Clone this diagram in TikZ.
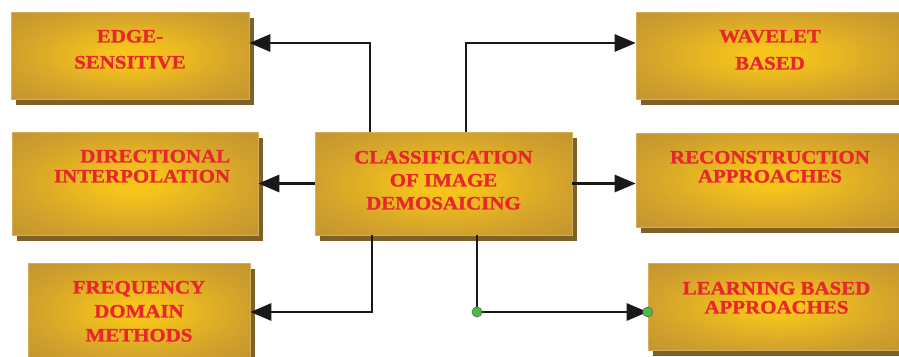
\documentclass[tikz,border=0pt]{standalone}
\usepackage{fontspec}
\setmainfont[FakeStretch=1.1, BoldFeatures={FakeBold=1.2}]{Liberation Serif}
\usepackage{xcolor}
\usepackage{tikz}
\usetikzlibrary{arrows.meta,positioning,shadows}

\definecolor{goldlight}{HTML}{F6C41B}
\definecolor{goldmid}{HTML}{D2A22C}
\definecolor{golddark}{HTML}{BA8D30}
\definecolor{goldedge}{HTML}{D4AE58}
\definecolor{boxshadow}{HTML}{7D6126}
\definecolor{labelred}{HTML}{E8262C}
\definecolor{dotgreen}{HTML}{46C040}

\pgfdeclareradialshading{goldglow}{\pgfpoint{0bp}{0bp}}{%
  color(0bp)=(goldlight); color(5bp)=(goldlight); color(24bp)=(goldmid); color(42bp)=(golddark); color(70bp)=(golddark)}

\newcommand{\boxfont}[1]{\fontsize{19}{#1}\selectfont\bfseries}

\tikzset{
  catbox/.style={rectangle, draw=goldedge, line width=0.6pt, shade, shading=goldglow,
    general shadow={shadow xshift=5pt, shadow yshift=-6pt, fill=boxshadow}, inner sep=0pt},
  cattext/.style={text=labelred, align=center, inner sep=0pt, font=\boxfont{#1}},
  cattext/.default=24,
  link/.style={draw=black!90, line width=2.8pt},
  arrowlink/.style={link, -{Triangle[length=21pt,width=17pt]}},
  junction/.style={circle, fill=dotgreen, draw=black!60, line width=0.7pt, inner sep=0pt, minimum size=10pt}
}

\begin{document}
\begin{tikzpicture}[x=1pt,y=-1pt]
    \fill[white] (0,0) rectangle (899,356);
    \useasboundingbox (0,0) rectangle (899,356);

    % Category boxes
    \node[catbox, minimum width=238pt, minimum height=87pt] (edge) at (130,55.5) {};
    \node[catbox, minimum width=246pt, minimum height=103pt] (dir) at (135,183.5) {};
    \node[catbox, minimum width=222pt, minimum height=97pt] (freq) at (139,311.5) {};
    \node[catbox, minimum width=257pt, minimum height=103pt] (center) at (443.5,183.5) {};
    \node[catbox, minimum width=268pt, minimum height=87pt] (wavelet) at (770,55.5) {};
    \node[catbox, minimum width=268pt, minimum height=94pt] (recon) at (770,180) {};
    \node[catbox, minimum width=257pt, minimum height=87pt] (learn) at (776.5,306.5) {};

    % Box labels
    \node[cattext=26, below=18pt of edge.north] (edgetext) {EDGE-\\SENSITIVE};
    \node[cattext=20, align=right, below left=18pt and 28pt of dir.north east] (dirtext) {DIRECTIONAL\\INTERPOLATION};
    \node[cattext=24, below=18pt of freq.north] (freqtext) {FREQUENCY\\DOMAIN\\METHODS};
    \node[cattext=23, below=19pt of center.north] (centertext) {CLASSIFICATION\\OF IMAGE\\DEMOSAICING};
    \node[cattext=27, below=18pt of wavelet.north] (wavelettext) {WAVELET\\BASED};
    \node[cattext=19, below=18pt of recon.north] (recontext) {RECONSTRUCTION\\APPROACHES};
    \node[cattext=19, below=19pt of learn.north] (learntext) {LEARNING BASED\\APPROACHES};

    % Links out of the centre box
    \coordinate (lbend) at (370,43);
    \coordinate (rbend) at (466,43);
    \coordinate (lfoot) at (372,312);
    \coordinate (rfoot) at (477,312);
    \draw[arrowlink] (center.north -| lbend) -- (lbend) -- (lbend -| edge.east);
    \draw[arrowlink] (center.north -| rbend) -- (rbend) -- (rbend -| wavelet.west);
    \draw[arrowlink] (center.west) -- (center.west -| dir.east);
    \draw[arrowlink] (center.east) -- (center.east -| recon.west);
    \draw[arrowlink] (center.south -| lfoot) -- (lfoot) -- (lfoot -| freq.east);
    \draw[link] (center.south -| rfoot) -- (rfoot);
    \draw[arrowlink] (rfoot) -- (rfoot -| learn.west);
    \node[junction] (rdot) at (rfoot) {};
    \node[junction] (ldot) at (rfoot -| learn.west) {};
\end{tikzpicture}
\end{document}
